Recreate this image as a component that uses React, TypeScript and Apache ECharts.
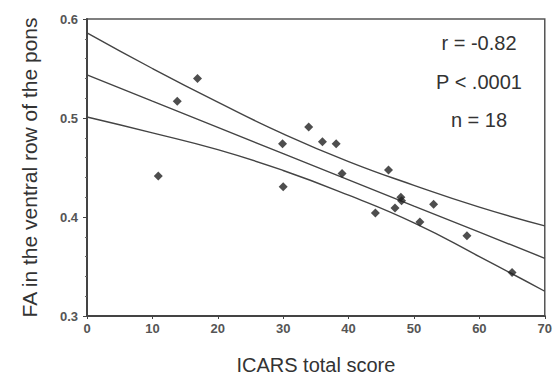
import React, { useEffect, useRef } from "react";
import * as echarts from "echarts";

const scoreX = [10.9, 13.8, 16.9, 29.9, 30.0, 33.9, 36.0, 38.1, 39.0, 44.1, 46.1, 47.1, 48.0, 48.1, 50.9, 53.0, 58.1, 65.0];
const faY = [0.4415, 0.517, 0.540, 0.474, 0.4305, 0.491, 0.476, 0.474, 0.444, 0.404, 0.4475, 0.409, 0.420, 0.4165, 0.395, 0.413, 0.381, 0.344];

const bandX = [0, 10, 20, 30, 40, 50, 60, 70];
const fitY = [0.5435, 0.517, 0.4906, 0.464, 0.4376, 0.411, 0.3847, 0.3583];
const upperY = [0.586, 0.550, 0.516, 0.484, 0.456, 0.432, 0.410, 0.391];
const lowerY = [0.501, 0.485, 0.468, 0.447, 0.422, 0.394, 0.360, 0.325];

const statLines = ["r = -0.82", "P < .0001", "n = 18"];

const FONT = "'Liberation Sans', Arial, sans-serif";

export default function App() {
  const ref = useRef<HTMLDivElement>(null);
  useEffect(() => {
    if (!ref.current) return;
    const chart = echarts.init(ref.current, null, { renderer: "svg" });
    const pair = (xs: number[], ys: number[]) => xs.map((x, i) => [x, ys[i]]);
    const lineStyle = { color: "#444", width: 1.4 };
    chart.setOption({
      animation: false,
      backgroundColor: "#fff",
      grid: { left: 87, right: 9, top: 19, bottom: 60, show: true, borderColor: "#555", borderWidth: 1.5 },
      xAxis: {
        type: "value",
        min: 0,
        max: 70,
        interval: 10,
        name: "ICARS total score",
        nameLocation: "middle",
        nameGap: 39,
        nameTextStyle: { fontFamily: FONT, fontSize: 20, color: "#333" },
        axisLine: { show: true, lineStyle: { color: "#444", width: 2 } },
        axisTick: { show: true, length: 3, lineStyle: { color: "#444" } },
        axisLabel: { fontFamily: FONT, fontSize: 13, fontWeight: "bold", color: "#555", margin: 6 },
        splitLine: { show: false },
      },
      yAxis: {
        type: "value",
        min: 0.3,
        max: 0.6,
        interval: 0.1,
        name: "FA in the ventral row of the pons",
        nameLocation: "middle",
        nameGap: 47,
        nameTextStyle: { fontFamily: FONT, fontSize: 21, color: "#333" },
        axisLine: { show: true, lineStyle: { color: "#444", width: 2 } },
        axisTick: { show: true, length: 4, lineStyle: { color: "#444" } },
        minorTick: { show: true, splitNumber: 5, length: 2, lineStyle: { color: "#666" } },
        axisLabel: { fontFamily: FONT, fontSize: 13, fontWeight: "bold", color: "#555", margin: 9, formatter: (v: number) => v.toFixed(1) },
        splitLine: { show: false },
      },
      series: [
        { type: "line", data: pair(bandX, upperY), smooth: true, symbol: "none", lineStyle, z: 2 },
        { type: "line", data: pair(bandX, fitY), symbol: "none", lineStyle, z: 2 },
        { type: "line", data: pair(bandX, lowerY), smooth: true, symbol: "none", lineStyle, z: 2 },
        {
          type: "scatter",
          data: pair(scoreX, faY),
          symbol: "diamond",
          symbolSize: 9,
          itemStyle: { color: "#222" },
          z: 3,
        },
      ],
      graphic: statLines.map((t, i) => ({
        type: "text",
        x: 479,
        y: 43 + i * 38.5,
        style: { text: t, fontFamily: FONT, fontSize: 20, fill: "#333", textAlign: "center", textVerticalAlign: "middle" },
      })),
    });
    return () => chart.dispose();
  }, []);
  return <div ref={ref} style={{ width: 555, height: 380, position: "absolute", left: 0, top: 0 }} />;
}
